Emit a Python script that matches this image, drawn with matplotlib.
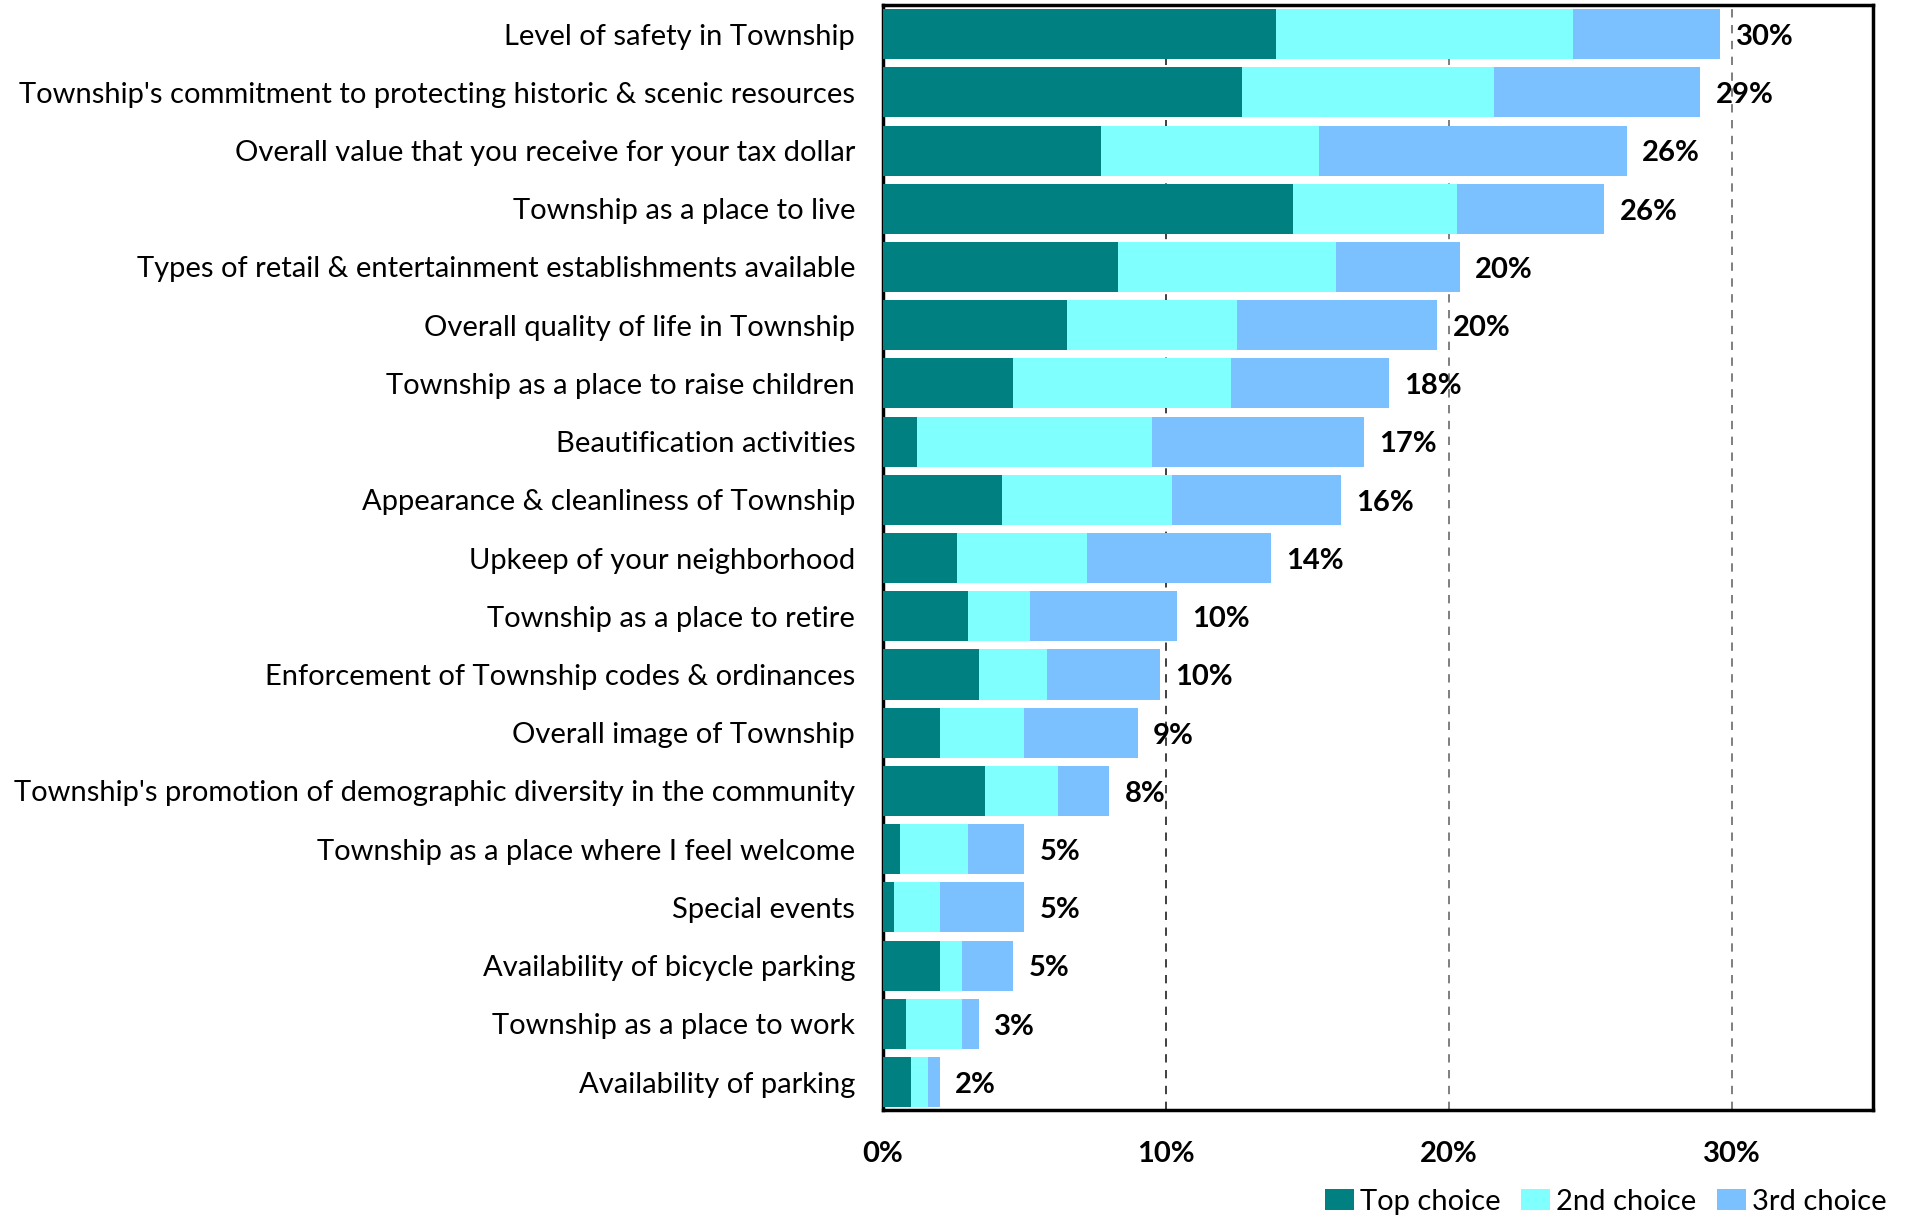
import matplotlib
matplotlib.use("Agg")
import matplotlib.pyplot as plt
from matplotlib.ticker import FuncFormatter
import numpy as np

plt.rcParams["font.family"] = ["Lato", "DejaVu Sans"]

categories = [
    "Level of safety in Township",
    "Township's commitment to protecting historic & scenic resources",
    "Overall value that you receive for your tax dollar",
    "Township as a place to live",
    "Types of retail & entertainment establishments available",
    "Overall quality of life in Township",
    "Township as a place to raise children",
    "Beautification activities",
    "Appearance & cleanliness of Township",
    "Upkeep of your neighborhood",
    "Township as a place to retire",
    "Enforcement of Township codes & ordinances",
    "Overall image of Township",
    "Township's promotion of demographic diversity in the community",
    "Township as a place where I feel welcome",
    "Special events",
    "Availability of bicycle parking",
    "Township as a place to work",
    "Availability of parking",
]
top_choice = [13.9, 12.7, 7.7, 14.5, 8.3, 6.5, 4.6, 1.2, 4.2, 2.6, 3.0, 3.4, 2.0, 3.6, 0.6, 0.4, 2.0, 0.8, 1.0]
second_choice = [10.5, 8.9, 7.7, 5.8, 7.7, 6.0, 7.7, 8.3, 6.0, 4.6, 2.2, 2.4, 3.0, 2.6, 2.4, 1.6, 0.8, 2.0, 0.6]
third_choice = [5.2, 7.3, 10.9, 5.2, 4.4, 7.1, 5.6, 7.5, 6.0, 6.5, 5.2, 4.0, 4.0, 1.8, 2.0, 3.0, 1.8, 0.6, 0.4]
total_labels = ["30%", "29%", "26%", "26%", "20%", "20%", "18%", "17%", "16%", "14%",
                "10%", "10%", "9%", "8%", "5%", "5%", "5%", "3%", "2%"]

colors = ["#008080", "#80FFFF", "#7BC1FF"]
series = [("Top choice", top_choice), ("2nd choice", second_choice), ("3rd choice", third_choice)]

fig = plt.figure(figsize=(19.06, 12.15), dpi=100)
ax = fig.add_axes([883 / 1906, 1 - 1110 / 1215, 990 / 1906, 1105 / 1215])

y = np.arange(len(categories))
left = np.zeros(len(categories))
for (name, vals), c in zip(series, colors):
    ax.barh(y, vals, left=left, height=0.86, color=c, label=name, zorder=3)
    left = left + np.array(vals)

# total percentage at the end of each bar
for yi, end, lab in zip(y, left, total_labels):
    ax.annotate(lab, (end, yi), xytext=(11, -2), textcoords="offset points",
                va="center", ha="left", fontsize=21, fontweight="bold", zorder=4)

ax.set_xlim(0, 35)
ax.set_ylim(len(categories) - 0.52, -0.5)
ax.set_xticks([0, 10, 20, 30])
ax.xaxis.set_major_formatter(FuncFormatter(lambda v, p: f"{v:.0f}%"))
ax.xaxis.grid(True, linestyle=(0, (5, 4.5)), color="#6a6a6a", linewidth=1.2, zorder=1)
ax.get_xgridlines()[1].set_color("#202020")
ax.set_yticks(y)
ax.set_yticklabels(categories, fontsize=21)
ax.tick_params(axis="y", length=0, pad=20)
ax.tick_params(axis="x", length=0, pad=22, labelsize=21)
for t in ax.get_xticklabels():
    t.set_fontweight("bold")
for s in ax.spines.values():
    s.set_linewidth(2.5)
    s.set_color("black")

fig.legend(loc="lower right", bbox_to_anchor=(0.999, -0.014), ncol=3, frameon=False,
           fontsize=21, handlelength=1.0, handleheight=0.7, handletextpad=0.2,
           columnspacing=0.7, borderaxespad=0.2)

fig.savefig("out.png", dpi=100)
